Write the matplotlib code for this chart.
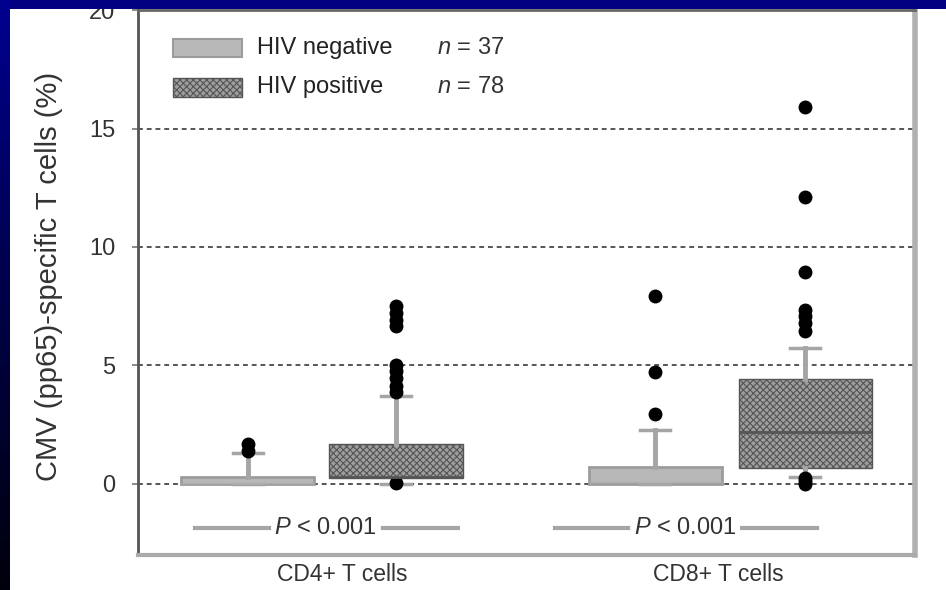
import numpy as np
import matplotlib.pyplot as plt
from matplotlib.patches import Rectangle
from matplotlib.colors import LinearSegmentedColormap

plt.rcParams['font.family'] = ['Liberation Sans', 'DejaVu Sans']
plt.rcParams['mathtext.fontset'] = 'custom'
plt.rcParams['mathtext.rm'] = 'Liberation Sans'
plt.rcParams['mathtext.it'] = 'Liberation Sans:italic'
plt.rcParams['hatch.linewidth'] = 0.8

# data
groups = ['CD4+ T cells', 'CD8+ T cells']
series = ['HIV negative', 'HIV positive']
n_counts = [37, 78]
positions = [0.73, 1.72, 3.45, 4.45]   # neg/pos for CD4, then CD8
q1 = [0.0, 0.25, 0.0, 0.66]
med = [0.05, 0.3, 0.1, 2.2]
q3 = [0.31, 1.7, 0.73, 4.41]
whislo = [0.0, 0.0, 0.0, 0.31]
whishi = [1.31, 3.7, 2.28, 5.72]
fliers = [
    [1.4, 1.7],
    [0.05, 3.9, 4.15, 4.45, 4.75, 5.0, 6.65, 6.9, 7.2, 7.5],
    [2.95, 4.74, 7.93],
    [0.0, 0.12, 0.25, 6.45, 6.8, 7.1, 7.35, 8.93, 12.1, 15.9],
]
group_pos = [1.36, 3.87]
p_text = [r'$P$ < 0.001', r'$P$ < 0.001']
p_pos = [1.25, 3.65]
p_y = -1.86

fig = plt.figure(figsize=(9.46, 5.90), dpi=100)
fig.patch.set_facecolor('white')
ax = fig.add_axes([0.1459, 0.0593, 0.8213, 0.9237])

stats = []
for i in range(len(positions)):
    stats.append({'q1': q1[i], 'med': med[i], 'q3': q3[i],
                  'whislo': whislo[i], 'whishi': whishi[i], 'fliers': fliers[i]})

bp = ax.bxp(stats, positions=positions, widths=0.89, capwidths=0.2,
            patch_artist=True, manage_ticks=False,
            flierprops=dict(marker='o', markerfacecolor='black',
                            markeredgecolor='black', markersize=9),
            whiskerprops=dict(color='#a5a5a5', lw=3.5),
            capprops=dict(color='#a5a5a5', lw=2.5))

for i, box in enumerate(bp['boxes']):
    if i % 2 == 0:
        box.set_facecolor('#b8b8b8')
        box.set_edgecolor('#9c9c9c')
        box.set_linewidth(2)
        bp['medians'][i].set_color('#b0b0b0')
    else:
        box.set_facecolor('#9e9e9e')
        box.set_edgecolor('#555555')
        box.set_hatch('xxxxx')
        box.set_linewidth(1)
        bp['medians'][i].set_color('#555555')
        bp['medians'][i].set_linewidth(2)
    box.set_zorder(2)

# p value annotations
for xp, txt in zip(p_pos, p_text):
    ax.plot([xp - 0.87, xp - 0.38], [p_y, p_y], color='#a5a5a5', lw=3)
    ax.plot([xp + 0.38, xp + 0.88], [p_y, p_y], color='#a5a5a5', lw=3)
    ax.text(xp, p_y, txt, ha='center', va='center', fontsize=17, color='#333333')

# legend
leg_y = [0.93, 0.858]
for j in range(2):
    if j == 0:
        r = Rectangle((0.045, leg_y[j] - 0.016), 0.089, 0.032, transform=ax.transAxes,
                      facecolor='#b8b8b8', edgecolor='#9c9c9c', lw=1.5)
    else:
        r = Rectangle((0.045, leg_y[j] - 0.017), 0.089, 0.034, transform=ax.transAxes,
                      facecolor='#9e9e9e', edgecolor='#555555', hatch='xxxxx', lw=1)
    ax.add_patch(r)
    ax.text(0.153, leg_y[j], series[j], transform=ax.transAxes, ha='left', va='center',
            fontsize=17, color='#222222')
    ax.text(0.385, leg_y[j], r'$n$ = %d' % n_counts[j], transform=ax.transAxes,
            ha='left', va='center', fontsize=17, color='#333333')

ax.set_xlim(0, 5.18)
ax.set_ylim(-3, 20)
ax.set_yticks([0, 5, 10, 15, 20])
ax.set_xticks(group_pos, groups)
ax.grid(axis='y', color='#555555', lw=1.4, ls=(0, (2.5, 2)))
ax.set_axisbelow(True)
ax.tick_params(axis='y', length=4.5, width=1.2, color='#777777', pad=12,
               labelsize=17, labelcolor='#333333')
ax.tick_params(axis='x', length=0, pad=6, labelsize=16.5, labelcolor='#333333')
ax.set_ylabel('CMV (pp65)-specific T cells (%)', fontsize=21, color='#333333')
ax.yaxis.set_label_coords(-0.0965, 0.512)

ax.spines['left'].set_color('#555555')
ax.spines['left'].set_linewidth(2)
ax.spines['top'].set_color('#666666')
ax.spines['top'].set_linewidth(2)
ax.spines['right'].set_color('#b0b0b0')
ax.spines['right'].set_linewidth(4)
ax.spines['bottom'].set_color('#aaaaaa')
ax.spines['bottom'].set_linewidth(3)

# dark blue frame on top and left side
fig.add_artist(Rectangle((0, 1 - 9 / 590), 1, 9 / 590, transform=fig.transFigure,
                         facecolor='#000080', edgecolor='none', zorder=10))
gax = fig.add_axes([0, 0, 9 / 946, 1])
grad = np.linspace(0, 1, 256).reshape(-1, 1)
gax.imshow(grad, aspect='auto',
           cmap=LinearSegmentedColormap.from_list('frame', ['#000090', '#000048', '#00000c']))
gax.axis('off')
gax.set_zorder(10)

fig.savefig('out.png', dpi=100)
